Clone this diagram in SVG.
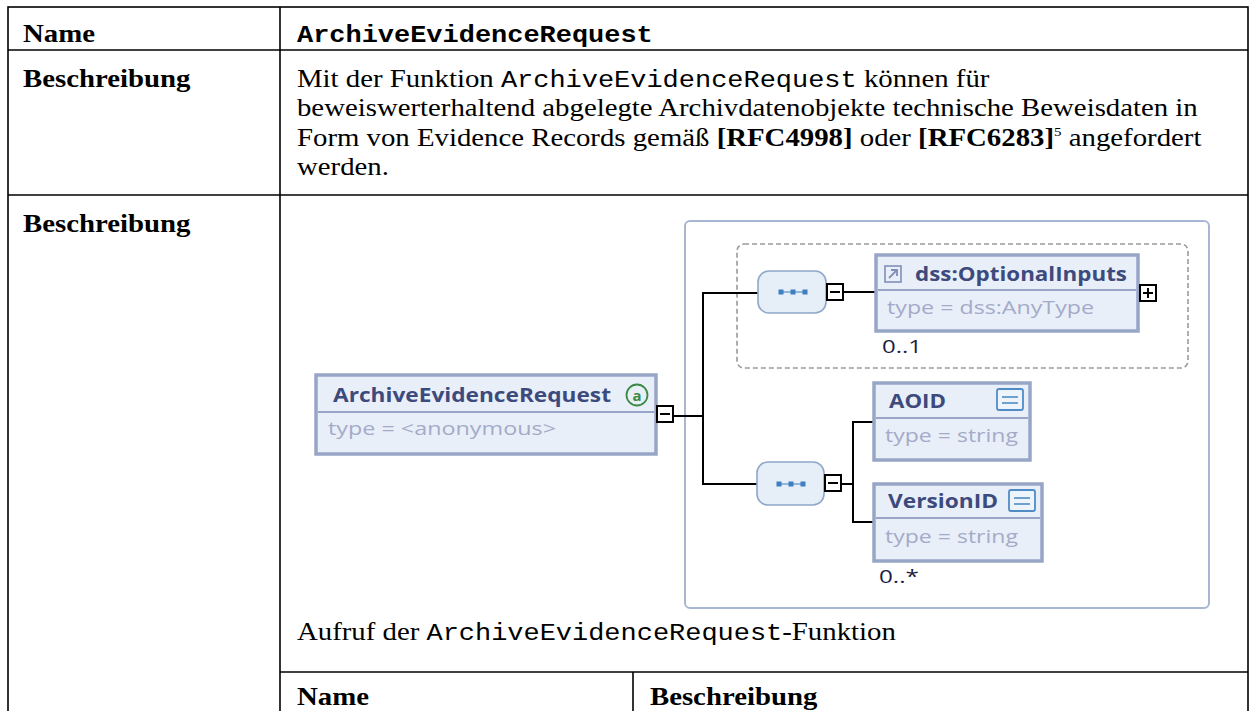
<svg xmlns="http://www.w3.org/2000/svg" width="1250" height="711" viewBox="0 0 1250 711">
  <style>
    .grid { stroke: #000; stroke-width: 1.6; fill: none; }
    .serif { font-family: "Liberation Serif", "Times New Roman", serif; font-size: 25px; fill: #000; }
    .lbl { font-weight: bold; }
    .mono { font-family: "Liberation Mono", "Courier New", monospace; font-size: 23.4px; }
    .b { font-weight: bold; }
    .frame { fill: #fff; stroke: #a9b6d2; stroke-width: 2; }
    .choice { fill: none; stroke: #9a9a9a; stroke-width: 1.6; stroke-dasharray: 5 3; }
    .elem { fill: #e9eff9; stroke: #97a5c6; stroke-width: 3.5; }
    .sep { stroke: #97a5c6; stroke-width: 2; }
    .name { font-family: "Open Sans", "Noto Sans", sans-serif; font-weight: bold; font-size: 19px; fill: #3d4a7c; }
    .type { font-family: "Open Sans", "Noto Sans", sans-serif; font-size: 17.5px; fill: #a4abc8; }
    .occ { font-family: "Open Sans", "Noto Sans", sans-serif; font-size: 18px; fill: #1c1c44; }
    .seq { fill: #e6eef8; stroke: #8ea7c8; stroke-width: 1.6; }
    .dot { fill: #3d7fbf; }
    .dotline { stroke: #3d7fbf; stroke-width: 1; }
    .tog { fill: #fff; stroke: #000; stroke-width: 2; }
    .wire { fill: none; stroke: #000; stroke-width: 2; }
    .ico { fill: #eef4fb; stroke: #4f8cc6; stroke-width: 1.8; }
  </style>

  <!-- table grid -->
  <g id="table">
    <rect class="grid" x="8" y="7" width="1240" height="720"/>
    <line class="grid" x1="280" y1="7" x2="280" y2="711"/>
    <line class="grid" x1="8" y1="50" x2="1248" y2="50"/>
    <line class="grid" x1="8" y1="195" x2="1248" y2="195"/>
    <line class="grid" x1="280" y1="672" x2="1248" y2="672"/>
    <line class="grid" x1="633" y1="672" x2="633" y2="711"/>
  </g>

  <!-- table text: glyphs are widened to the page's print proportions -->
  <g id="table-text" class="serif" transform="scale(1.152 1)">
    <text class="lbl" x="20" y="41.7">Name</text>
    <text class="mono b" x="257.8" y="41.7" font-size="25.2">ArchiveEvidenceRequest</text>

    <text class="lbl" x="20" y="87">Beschreibung</text>
    <text x="257.8" y="87">Mit der Funktion <tspan class="mono">ArchiveEvidenceRequest</tspan> können für</text>
    <text x="257.8" y="116.3">beweiswerterhaltend abgelegte Archivdatenobjekte technische Beweisdaten in</text>
    <text x="257.8" y="145.6">Form von Evidence Records gemäß <tspan class="b">[RFC4998]</tspan> oder <tspan class="b">[RFC6283]</tspan><tspan font-size="13" dy="-10">5</tspan><tspan dy="10"> angefordert</tspan></text>
    <text x="257.8" y="175">werden.</text>

    <text class="lbl" x="20" y="231.7">Beschreibung</text>
    <text x="257.8" y="640">Aufruf der <tspan class="mono">ArchiveEvidenceRequest</tspan>-Funktion</text>

    <text class="lbl" x="257.8" y="705">Name</text>
    <text class="lbl" x="564.2" y="705">Beschreibung</text>
  </g>

  <!-- schema diagram frame -->
  <rect id="frame" class="frame" x="685" y="221" width="524" height="387" rx="5"/>
  <rect id="choice-optional" class="choice" x="737" y="244" width="451" height="124" rx="7"/>

  <!-- connectors -->
  <g id="connectors">
    <polyline class="wire" points="673,416 703,416"/>
    <polyline class="wire" points="759,293 703,293 703,484 757,484"/>
    <polyline class="wire" points="844,292 876,292"/>
    <polyline class="wire" points="842,484 853,484"/>
    <polyline class="wire" points="874,422 853,422 853,522 874,522"/>
  </g>

  <!-- root element -->
  <g id="node-root">
    <rect class="elem" x="316" y="375" width="340" height="79"/>
    <line class="sep" x1="318" y1="412" x2="654" y2="412"/>
    <text class="name" x="333" y="402" textLength="278" lengthAdjust="spacingAndGlyphs">ArchiveEvidenceRequest</text>
    <circle cx="637" cy="395" r="10.5" fill="none" stroke="#3b8a45" stroke-width="1.8"/>
    <text x="637" y="400.5" text-anchor="middle" font-family="Open Sans, Noto Sans, sans-serif" font-weight="bold" font-size="15" fill="#3b8a45">a</text>
    <text class="type" x="328" y="435" textLength="228" lengthAdjust="spacingAndGlyphs">type = &lt;anonymous&gt;</text>
    <rect class="tog" x="657" y="406" width="16" height="16"/>
    <line x1="660" y1="414" x2="670" y2="414" stroke="#000" stroke-width="2"/>
  </g>

  <!-- sequence in optional group -->
  <g id="node-seq1">
    <rect class="seq" x="758" y="271" width="68" height="42" rx="11"/>
    <line class="dotline" x1="781" y1="292" x2="805" y2="292"/>
    <rect class="dot" x="778.5" y="289.5" width="5" height="5"/>
    <rect class="dot" x="790.5" y="289.5" width="5" height="5"/>
    <rect class="dot" x="802.5" y="289.5" width="5" height="5"/>
    <rect class="tog" x="827" y="284" width="16" height="16"/>
    <line x1="830" y1="292" x2="840" y2="292" stroke="#000" stroke-width="2"/>
  </g>

  <!-- dss:OptionalInputs -->
  <g id="node-optional-inputs">
    <rect class="elem" x="876" y="255" width="262" height="76"/>
    <line class="sep" x1="878" y1="290" x2="1136" y2="290"/>
    <rect x="885" y="266" width="16" height="16" fill="#e9eff9" stroke="#7f8fb8" stroke-width="1.6"/>
    <line x1="889" y1="278" x2="897" y2="270" stroke="#7f8fb8" stroke-width="1.8"/>
    <polyline points="891,270 897,270 897,276" fill="none" stroke="#7f8fb8" stroke-width="1.8"/>
    <text class="name" x="915" y="281" textLength="212" lengthAdjust="spacingAndGlyphs">dss:OptionalInputs</text>
    <text class="type" x="887" y="314" textLength="207" lengthAdjust="spacingAndGlyphs">type = dss:AnyType</text>
    <rect class="tog" x="1140" y="285" width="16" height="16"/>
    <line x1="1143" y1="293" x2="1153" y2="293" stroke="#000" stroke-width="2"/>
    <line x1="1148" y1="288" x2="1148" y2="298" stroke="#000" stroke-width="2"/>
    <text class="occ" x="882" y="353" textLength="40" lengthAdjust="spacingAndGlyphs">0..1</text>
  </g>

  <!-- sequence of AOID / VersionID -->
  <g id="node-seq2">
    <rect class="seq" x="757" y="462" width="67" height="43" rx="11"/>
    <line class="dotline" x1="779" y1="484" x2="803" y2="484"/>
    <rect class="dot" x="776.5" y="481.5" width="5" height="5"/>
    <rect class="dot" x="788.5" y="481.5" width="5" height="5"/>
    <rect class="dot" x="800.5" y="481.5" width="5" height="5"/>
    <rect class="tog" x="825" y="475" width="16" height="16"/>
    <line x1="828" y1="483" x2="838" y2="483" stroke="#000" stroke-width="2"/>
  </g>

  <!-- AOID -->
  <g id="node-aoid">
    <rect class="elem" x="874" y="383" width="156" height="77"/>
    <line class="sep" x1="876" y1="418" x2="1028" y2="418"/>
    <text class="name" x="889" y="408" textLength="57" lengthAdjust="spacingAndGlyphs">AOID</text>
    <rect class="ico" x="997" y="389" width="26" height="21" rx="2"/>
    <line x1="1002" y1="397" x2="1018" y2="397" stroke="#4f8cc6" stroke-width="1.6"/>
    <line x1="1002" y1="403" x2="1018" y2="403" stroke="#4f8cc6" stroke-width="1.6"/>
    <text class="type" x="885" y="442" textLength="133" lengthAdjust="spacingAndGlyphs">type = string</text>
  </g>

  <!-- VersionID -->
  <g id="node-versionid">
    <rect class="elem" x="874" y="484" width="168" height="77"/>
    <line class="sep" x1="876" y1="518" x2="1040" y2="518"/>
    <text class="name" x="888" y="508" textLength="110" lengthAdjust="spacingAndGlyphs">VersionID</text>
    <rect class="ico" x="1009" y="490" width="26" height="21" rx="2"/>
    <line x1="1014" y1="498" x2="1030" y2="498" stroke="#4f8cc6" stroke-width="1.6"/>
    <line x1="1014" y1="504" x2="1030" y2="504" stroke="#4f8cc6" stroke-width="1.6"/>
    <text class="type" x="885" y="543" textLength="133" lengthAdjust="spacingAndGlyphs">type = string</text>
    <text class="occ" x="879" y="583" textLength="40" lengthAdjust="spacingAndGlyphs">0..*</text>
  </g>
</svg>
